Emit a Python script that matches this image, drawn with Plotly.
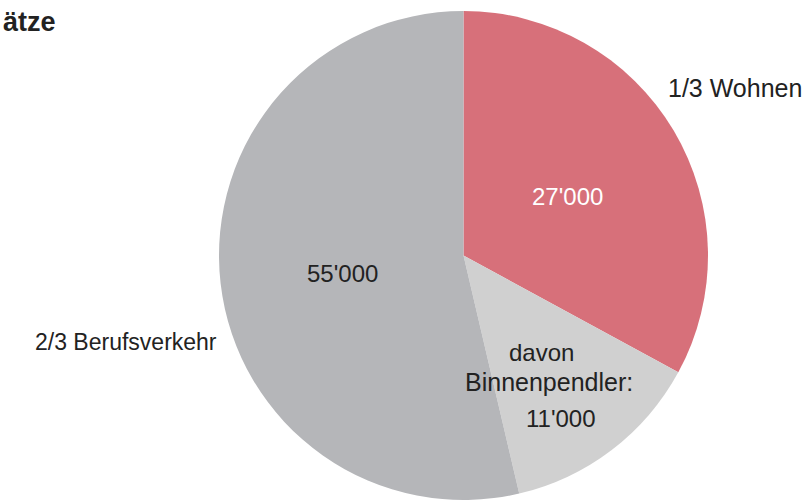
import plotly.graph_objects as go

W, H = 811, 500

# Data
segments = ["Wohnen", "Binnenpendler", "Berufsverkehr (übrige)"]
values = [27000, 11000, 44000]
colors = ["#d7707a", "#d0d0d0", "#b5b6b9"]

inner_labels = ["27'000", "davon", "Binnenpendler:", "11'000", "55'000"]
outer_labels = ["1/3 Wohnen", "2/3 Berufsverkehr"]
title_text = "ätze"

FONT = "Liberation Sans, Arial, sans-serif"

fig = go.Figure(go.Pie(
    labels=segments,
    values=values,
    marker=dict(colors=colors, line=dict(width=0)),
    sort=False,
    direction="clockwise",
    rotation=0,
    textinfo="none",
    hoverinfo="label+value",
    showlegend=False,
    domain=dict(x=[219 / W, 708 / W], y=[0, 489 / H]),
))


def px(x, y):
    return x / W, 1 - y / H


annots = [
    # (text, x_px, y_px, color, size)
    (inner_labels[0], 567, 196, "#ffffff", 24),
    (inner_labels[1], 541, 352, "#222222", 24),
    (inner_labels[2], 549, 382, "#222222", 25),
    (inner_labels[3], 561, 418, "#222222", 24),
    (inner_labels[4], 342, 273, "#222222", 24),
    (outer_labels[0], 735, 88, "#222222", 25),
    (outer_labels[1], 126, 342, "#222222", 23),
]

for text, x, y, col, size in annots:
    ax, ay = px(x, y)
    fig.add_annotation(
        x=ax, y=ay, xref="paper", yref="paper",
        text=text, showarrow=False,
        xanchor="center", yanchor="middle",
        font=dict(family=FONT, size=size, color=col),
    )

tx, ty = px(1, 22)
fig.add_annotation(
    x=tx, y=ty, xref="paper", yref="paper",
    text="<b>" + title_text + "</b>", showarrow=False,
    xanchor="left", yanchor="middle",
    font=dict(family=FONT, size=27, color="#222222"),
)

fig.update_layout(
    width=W, height=H,
    margin=dict(l=0, r=0, t=0, b=0),
    paper_bgcolor="#ffffff",
    plot_bgcolor="#ffffff",
)

fig.write_html(
    "out.html",
    config={"displayModeBar": False},
    post_script="document.body.style.margin='0';document.body.style.overflow='hidden';",
)
